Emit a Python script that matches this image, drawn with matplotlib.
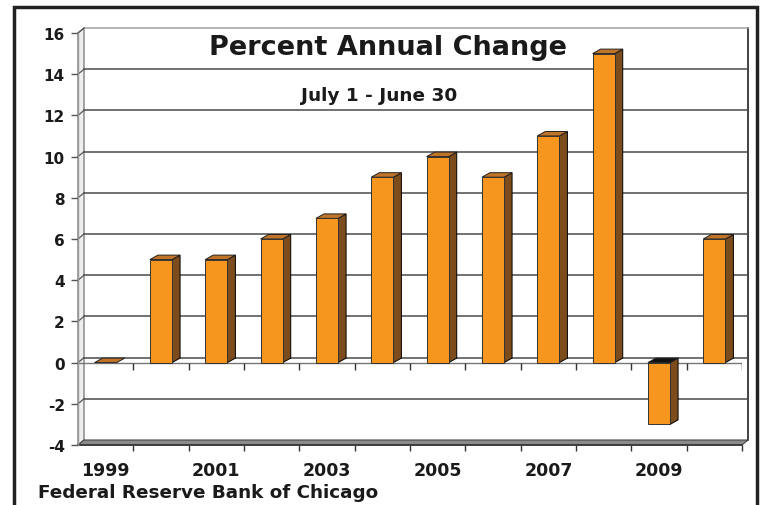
import matplotlib.pyplot as plt
from matplotlib.patches import Polygon, Rectangle

plt.rcParams["font.family"] = ["DejaVu Sans"]
plt.rcParams["font.weight"] = "bold"

years = [1999, 2000, 2001, 2002, 2003, 2004, 2005, 2006, 2007, 2008, 2009, 2010]
pct_change = [0, 5, 5, 6, 7, 9, 10, 9, 11, 15, -3, 6]
y_ticks = [-4, -2, 0, 2, 4, 6, 8, 10, 12, 14, 16]
x_labels = [str(y) if y % 2 else "" for y in years]

W, H = 760, 506
FRONT_FACE = "#f7961e"
SIDE_FACE = "#7c4c1c"
TOP_FACE = "#c07428"
GRID = "#4a4a4a"
TEXT = "#1a1a1a"

fig = plt.figure(figsize=(W / 100, H / 100), dpi=100)
fig.patch.set_facecolor("white")

# front plane of the plot: x 78..742 px, y 34..446 px
ax = fig.add_axes([78 / W, (H - 446) / H, 664 / W, 412 / H])
n = len(years)
ax.set_xlim(-0.5, n - 0.5)
ax.set_ylim(-4, 16)
ax.set_facecolor("none")
for s in ax.spines.values():
    s.set_visible(False)

px_x = 664 / n      # pixels per category
px_y = 412 / 20     # pixels per unit
wdx, wdy = 6 / px_x, 5 / px_y        # wall depth
bdx, bdy = 8 / px_x, 4.5 / px_y      # bar depth
half = 0.2
x0, x1 = -0.5, n - 0.5

# left side wall
ax.add_patch(Polygon([(x0, -4), (x0, 16), (x0 + wdx, 16 + wdy), (x0 + wdx, -4 + wdy)],
                     closed=True, facecolor="#eeeeee", edgecolor="#808080", lw=1,
                     clip_on=False, zorder=1))
# right edge of back wall
ax.plot([x1 + wdx, x1 + wdx], [-4 + wdy, 16 + wdy], color="#222222", lw=1.2,
        clip_on=False, zorder=1)

# gridlines on the back wall
for t in y_ticks[1:]:
    ax.plot([x0 + wdx, x1 + wdx], [t + wdy, t + wdy], color=GRID if t < 16 else "#a0a0a0",
            lw=1.1, clip_on=False, zorder=1)
    ax.plot([x0, x0 + wdx], [t, t + wdy], color="#555555", lw=0.9, clip_on=False, zorder=1)

# floor slab at -4
ax.add_patch(Polygon([(x0, -4), (x1, -4), (x1 + wdx, -4 + wdy), (x0 + wdx, -4 + wdy)],
                     closed=True, facecolor="#8a8a8a", edgecolor="#444444", lw=0.8,
                     clip_on=False, zorder=2))
ax.plot([x0, x1], [-4, -4], color="#333333", lw=1.2, clip_on=False, zorder=2)

# category line at zero
ax.plot([x0, x1], [0, 0], color="#777777", lw=1, zorder=2)
bounds = [i + 0.5 for i in range(n)]
ax.vlines(bounds, 0, -7 / px_y, color="#333333", lw=1, zorder=2)

# bars
for i, v in enumerate(pct_change):
    lo, hi = min(v, 0), max(v, 0)
    left, right = i - half, i + half
    top_col = "#111111" if v < 0 else TOP_FACE
    if v != 0:
        ax.add_patch(Polygon([(right, lo), (right, hi), (right + bdx, hi + bdy),
                              (right + bdx, lo + bdy)], closed=True,
                             facecolor=SIDE_FACE, edgecolor="black", lw=0.7, zorder=4))
        ax.bar(i, hi - lo, bottom=lo, width=2 * half, color=FRONT_FACE,
               edgecolor="#333333", lw=0.7, zorder=5)
    ax.add_patch(Polygon([(left, hi), (right, hi), (right + bdx, hi + bdy),
                          (left + bdx, hi + bdy)], closed=True,
                         facecolor=top_col, edgecolor="#222222", lw=0.7, zorder=4))

# axes ticks and labels
ax.set_yticks(y_ticks)
ax.set_yticklabels([str(t) for t in y_ticks])
ax.tick_params(axis="y", length=5, width=1, color="#555555", pad=4.5,
               labelsize=11, labelcolor=TEXT)
ax.set_xticks(range(n))
ax.set_xticklabels(x_labels)
ax.tick_params(axis="x", length=0, pad=11.5, labelsize=12.5, labelcolor=TEXT)
ax.set_xticks(bounds, minor=True)
ax.tick_params(axis="x", which="minor", length=4.3, width=1, color="#333333")
ax.plot([x0, x0], [-4, 16], color="#999999", lw=1, clip_on=False, zorder=2)

# titles
fig.text(388 / W, 1 - 48 / H, "Percent Annual Change", ha="center", va="center",
         fontsize=19.5, fontweight="bold", color=TEXT)
fig.text(379 / W, 1 - 96 / H, "July 1 - June 30", ha="center", va="center",
         fontsize=13.3, fontweight="bold", color=TEXT)
fig.text(38 / W, 1 - 493 / H, "Federal Reserve Bank of Chicago", ha="left", va="center",
         fontsize=13.2, fontweight="bold", color=TEXT)

# outer frame
fig.patches.append(Rectangle((14 / W, -0.05), (757 - 14) / W, 1.05 - 8 / H,
                             transform=fig.transFigure, fill=False,
                             edgecolor="#222222", lw=2.5))

fig.savefig("out.png", dpi=100)
